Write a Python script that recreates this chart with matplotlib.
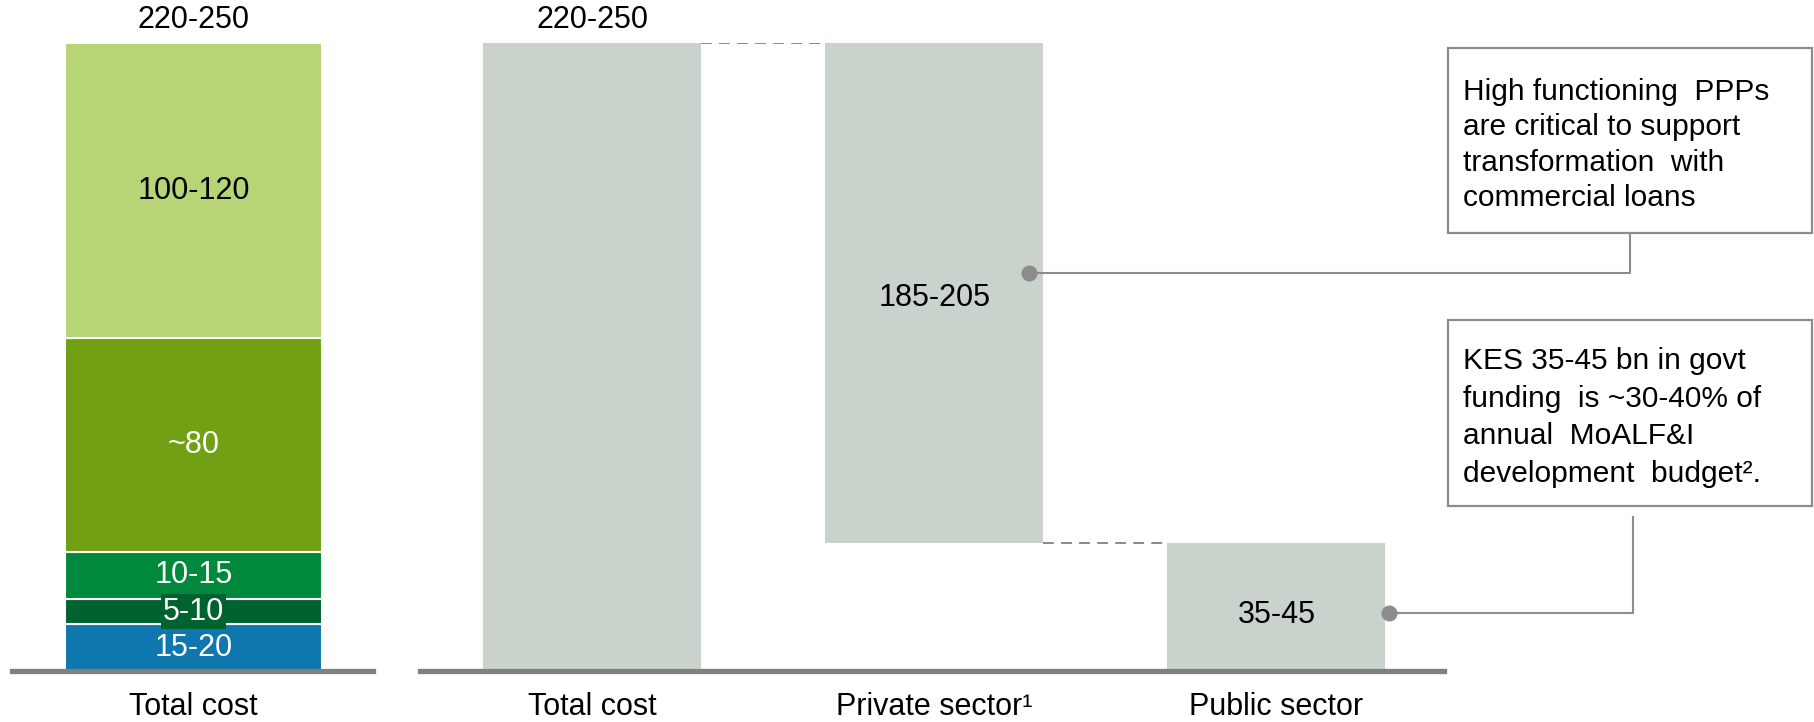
import matplotlib
matplotlib.use("Agg")
import matplotlib.pyplot as plt
from matplotlib.patches import Rectangle

plt.rcParams['font.family'] = ['Liberation Sans', 'DejaVu Sans']

# ---------------- data ----------------
# Left: breakdown of total cost (bottom -> top)
seg_labels = ["15-20", "5-10", "10-15", "~80", "100-120"]
seg_values = [17.5, 9.5, 17.5, 80, 110.5]
seg_colors = ["#0E77AD", "#00622F", "#00883D", "#71A014", "#B7D577"]
seg_text_colors = ["white", "white", "white", "white", "black"]
left_total_label = "220-250"
left_category = "Total cost"

# Right: waterfall of funding sources
wf_categories = ["Total cost", "Private sector\u00b9", "Public sector"]
wf_labels = ["220-250", "185-205", "35-45"]
wf_total = 235
wf_public = 48
wf_private = wf_total - wf_public

callout_private = ["High functioning  PPPs", "are critical to support",
                   "transformation  with", "commercial loans"]
callout_public = ["KES 35-45 bn in govt", "funding  is ~30-40% of",
                  "annual  MoALF&I", "development  budget\u00b2."]

# ---------------- style ----------------
W, H = 1815, 722
GREY_AX = "#808080"
GREY_LN = "#8C8C8C"
BAR_GREY = "#C9D3CC"
FS = 22
FS_CALL = 21.5

fig = plt.figure(figsize=(W / 100, H / 100), dpi=100)


def frac(x0, ytop, w, h):
    return [x0 / W, 1 - (ytop + h) / H, w / W, h / H]


def style_axis(ax):
    for s in ("top", "left", "right"):
        ax.spines[s].set_visible(False)
    ax.spines["bottom"].set_color(GREY_AX)
    ax.spines["bottom"].set_linewidth(3.8)
    ax.set_yticks([])
    ax.tick_params(axis="x", length=0, pad=15, labelsize=FS)
    ax.patch.set_alpha(0)


# ---------------- left stacked bar ----------------
axL = fig.add_axes(frac(12, 43, 361, 628))
style_axis(axL)
axL.set_xlim(-0.706, 0.698)
axL.set_ylim(0, 235)
bottom = 0
for lab, val, col, tc in zip(seg_labels, seg_values, seg_colors, seg_text_colors):
    axL.bar(0, val, bottom=bottom, width=1, color=col, edgecolor="white",
            linewidth=1.5, zorder=1)
    kw = {}
    if lab == "5-10":
        kw["bbox"] = dict(facecolor=col, edgecolor="none", pad=1.5)
    axL.text(0, bottom + val / 2, lab, ha="center", va="center",
             color=tc, fontsize=FS, zorder=3, **kw)
    bottom += val
axL.annotate(left_total_label, (0, bottom), xytext=(0, 16.5),
             textcoords="offset points", ha="center", va="center",
             fontsize=FS, annotation_clip=False)
axL.set_xticks([0], [left_category])

# ---------------- right waterfall ----------------
axR = fig.add_axes(frac(420, 43, 1024, 628))
style_axis(axR)
axR.set_xlim(-0.504, 2.490)
axR.set_ylim(0, 235)
bw = 0.637
bottoms = [0, wf_public, 0]
heights = [wf_total, wf_private, wf_public]
xs = list(range(len(wf_categories)))
axR.bar(xs, heights, bottom=bottoms, width=bw, color=BAR_GREY, zorder=1)
# labels
axR.annotate(wf_labels[0], (0, wf_total), xytext=(0, 16.5),
             textcoords="offset points", ha="center", va="center",
             fontsize=FS, annotation_clip=False)
axR.text(1, wf_public + wf_private / 2 - 2, wf_labels[1], ha="center",
         va="center", fontsize=FS)
axR.text(2, wf_public / 2 - 3, wf_labels[2], ha="center", va="center",
         fontsize=FS)
# dashed connectors
axR.plot([0 + bw / 2, 1 - bw / 2], [wf_total, wf_total], color=GREY_AX,
         lw=1.3, dashes=(6, 4))
axR.plot([1 + bw / 2, 2 - bw / 2], [wf_public, wf_public], color=GREY_AX,
         lw=1.3, dashes=(6, 4))
axR.set_xticks(xs, wf_categories)

# ---------------- callouts (overlay in pixel coords) ----------------
axO = fig.add_axes([0, 0, 1, 1])
axO.set_xlim(0, W)
axO.set_ylim(H, 0)
axO.axis("off")
axO.patch.set_alpha(0)


def to_px(ax, x, y):
    d = ax.transData.transform((x, y))
    return d[0], H - d[1]


# callout 1 (private)
px_priv_right, _ = to_px(axR, 1 + bw / 2, 0)
dot1 = (px_priv_right - 14, 273)
axO.add_patch(Rectangle((1448, 48), 364, 185, facecolor="white",
                        edgecolor=GREY_LN, lw=1.6))
axO.plot([dot1[0], 1630, 1630], [dot1[1], dot1[1], 233], color=GREY_LN, lw=1.5)
axO.plot([dot1[0]], [dot1[1]], "o", color=GREY_LN, ms=10.5)
for i, line in enumerate(callout_private):
    axO.text(1463, 100 + i * 35.3, line, fontsize=FS_CALL, va="baseline",
             ha="left")

# callout 2 (public)
px_pub_right, _ = to_px(axR, 2 + bw / 2, 0)
dot2 = (px_pub_right + 4, 613)
axO.add_patch(Rectangle((1448, 320), 364, 186, facecolor="white",
                        edgecolor=GREY_LN, lw=1.6))
axO.plot([dot2[0], 1633, 1633], [dot2[1], dot2[1], 517], color=GREY_LN, lw=1.5)
axO.plot([dot2[0]], [dot2[1]], "o", color=GREY_LN, ms=10.5)
for i, line in enumerate(callout_public):
    axO.text(1463, 369 + i * 37.7, line, fontsize=FS_CALL, va="baseline",
             ha="left")

fig.savefig("out.png", dpi=100)
